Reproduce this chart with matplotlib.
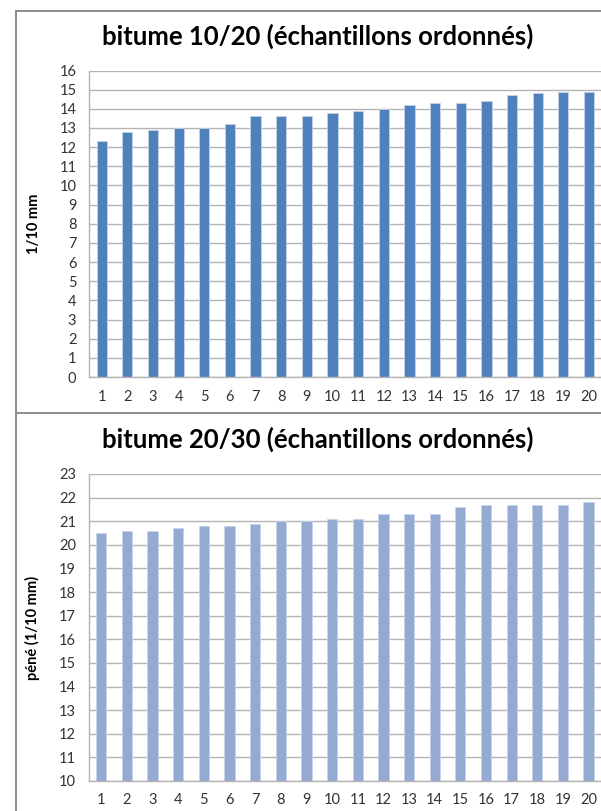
import matplotlib.pyplot as plt
from matplotlib.lines import Line2D

# penetrabilite des echantillons, classes par ordre croissant
echantillons = list(range(1, 21))
pene_10_20 = [12.3, 12.8, 12.9, 13.0, 13.0, 13.2, 13.6, 13.6, 13.6, 13.8,
              13.9, 14.0, 14.2, 14.3, 14.3, 14.4, 14.7, 14.8, 14.9, 14.9]
pene_20_30 = [20.5, 20.6, 20.6, 20.7, 20.8, 20.8, 20.9, 21.0, 21.0, 21.1,
              21.1, 21.3, 21.3, 21.3, 21.6, 21.7, 21.7, 21.7, 21.7, 21.8]

W, H = 601, 811
fig = plt.figure(figsize=(W / 100, H / 100), dpi=100)
plt.rcParams['font.family'] = ['Lato', 'DejaVu Sans']


def px(x0, y0, x1, y1):
    # rectangle en pixels (origine en haut a gauche) -> fraction de figure
    return [x0 / W, 1 - y1 / H, (x1 - x0) / W, (y1 - y0) / H]


def draw_chart(rect, values, color, ymin, ymax, ylabel, title, title_y):
    ax = fig.add_axes(rect)
    ax.set_axisbelow(True)
    ax.bar(echantillons, values, width=0.4, color=color,
           edgecolor='#c5d3e8', linewidth=0.6)
    ax.set_xlim(0.5, 20.5)
    ax.set_ylim(ymin, ymax)
    ax.set_yticks(range(ymin, ymax + 1))
    ax.set_xticks(echantillons)
    ax.grid(axis='y', color='#b4b4b4', linewidth=1.0)
    for s in ['top', 'right']:
        ax.spines[s].set_visible(False)
    for s in ['left', 'bottom']:
        ax.spines[s].set_color('#b4b4b4')
        ax.spines[s].set_linewidth(1.0)
    ax.tick_params(length=0, labelsize=10.5, labelcolor='#333333')
    ax.tick_params(axis='y', pad=9)
    ax.tick_params(axis='x', pad=9)
    ax.set_ylabel(ylabel, fontsize=10.5, fontweight='bold', labelpad=0)
    ax.yaxis.set_label_coords(-48 / (rect[2] * W), 0.5)
    fig.text(317.5 / W, 1 - title_y / H, title, ha='center', va='baseline',
             fontsize=18.5, fontweight='bold', color='black')
    return ax


draw_chart(px(88.9, 70.5, 601.8, 377), pene_10_20, '#4f81bd', 0, 16,
           '1/10 mm', 'bitume 10/20 (échantillons ordonnés)', 45)
draw_chart(px(88.5, 474, 601.4, 781), pene_20_30, '#94aad2', 10, 23,
           'péné (1/10 mm)', 'bitume 20/30 (échantillons ordonnés)', 448)

# cadres des deux graphiques
bord = '#8c8c8c'
fig.add_artist(Line2D([15.7 / W, 15.7 / W], [1 - 10.7 / H, 0], color=bord, lw=1.4))
fig.add_artist(Line2D([15.7 / W, 1], [1 - 10.7 / H, 1 - 10.7 / H], color=bord, lw=1.4))
fig.add_artist(Line2D([15.7 / W, 1], [1 - 412.7 / H, 1 - 412.7 / H], color=bord, lw=1.4))

fig.savefig('out.png', dpi=100)
